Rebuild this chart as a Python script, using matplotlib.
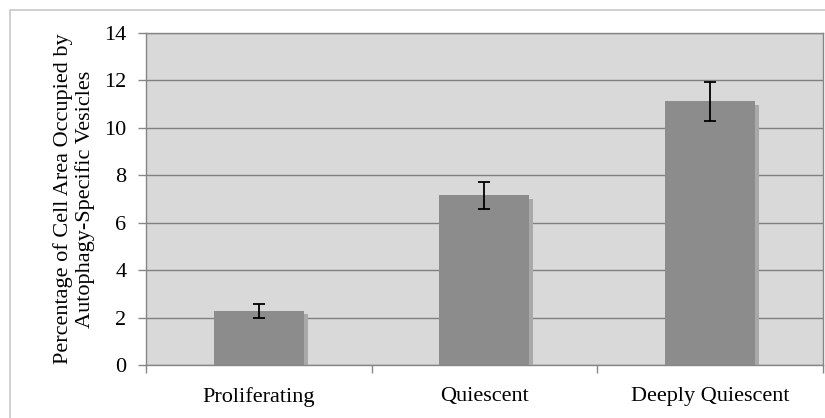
import numpy as np
import matplotlib
matplotlib.use('Agg')
import matplotlib.pyplot as plt
from matplotlib.patches import Rectangle

# data
categories = ['Proliferating', 'Quiescent', 'Deeply Quiescent']
means = [2.28, 7.16, 11.12]
errors = [0.28, 0.57, 0.83]
yticks = [0, 2, 4, 6, 8, 10, 12, 14]

plt.rcParams['font.family'] = ['Liberation Serif', 'DejaVu Serif']

fig = plt.figure(figsize=(8.25, 4.18), dpi=100)
# outer chart border (cut off on the right and bottom)
fig.patches.append(Rectangle((10/825, -0.1), 1.2, 1 - 10/418 + 0.1,
                             transform=fig.transFigure, fill=False,
                             edgecolor='#c8c8c8', linewidth=1.2))

ax = fig.add_axes([146/825, 1 - 365/418, (822.7 - 146)/825, (365 - 33)/418])
ax.set_facecolor('#d9d9d9')

x = np.arange(len(categories))
# shadows
ax.bar(x + 0.016, np.array(means) - 0.14, width=0.4, color='#a9a9a9', zorder=2)
ax.bar(x, means, width=0.4, color='#8c8c8c', zorder=3)
ax.errorbar(x, means, yerr=errors, fmt='none', ecolor='black',
            elinewidth=1.3, capsize=4.5, capthick=1.3, zorder=4)

ax.set_xlim(-0.5, 2.5)
ax.set_ylim(0, 14)
ax.set_yticks(yticks)
ax.yaxis.grid(True, color='#808080', linewidth=1)
ax.set_axisbelow(True)

ax.set_xticks(x)
ax.set_xticklabels(categories, fontsize=16)
ax.set_xticks([-0.5, 0.5, 1.5, 2.5], minor=True)
ax.tick_params(axis='x', which='major', length=0, pad=16)
ax.tick_params(axis='x', which='minor', length=6, color='#868686', width=1)
ax.tick_params(axis='y', length=6, color='#868686', width=1, pad=8, labelsize=16)

for s in ax.spines.values():
    s.set_color('#868686')
    s.set_linewidth(1)

ax.set_ylabel('Percentage of Cell Area Occupied by\nAutophagy-Specific Vesicles',
              fontsize=16, linespacing=1.1, labelpad=7)

fig.savefig('out.png', dpi=100)
